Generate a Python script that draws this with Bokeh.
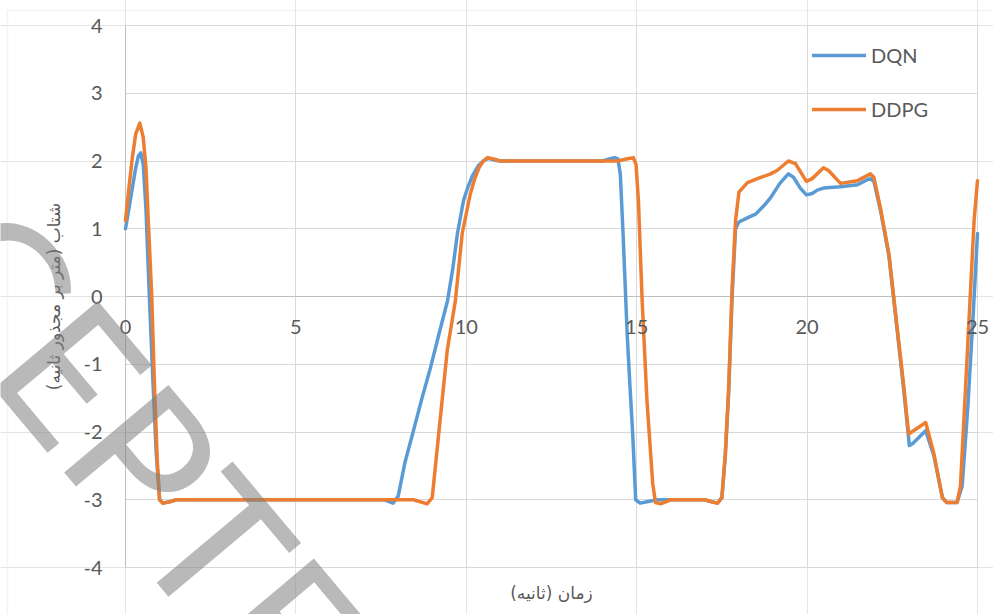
import math
from bokeh.plotting import figure
from bokeh.models import (Range1d, FixedTicker, Grid, Legend, LegendItem,
                          LabelSet, ColumnDataSource, Label, BoxAnnotation)
from bokeh.embed import file_html
from bokeh.resources import INLINE
from bokeh.core.properties import value

# ---- data ----
t_dqn = [0, 0.1, 0.2, 0.3, 0.38, 0.45, 0.52, 0.6, 0.7, 0.8, 0.9, 1.0, 1.1, 1.3, 1.5,
         7.6, 7.85, 8.0, 8.2, 8.45, 8.7, 8.95, 9.2, 9.45, 9.6, 9.74, 9.92, 10.05, 10.18, 10.35,
         10.5, 10.65, 10.85, 11.0, 14.0, 14.2, 14.35, 14.45, 14.52, 14.6, 14.72, 14.8,
         14.88, 14.97, 15.1, 15.3, 15.6, 17.0, 17.2, 17.37, 17.5, 17.6, 17.7, 17.8, 17.9,
         18.0, 18.2, 18.5, 18.75, 18.93, 19.2, 19.45, 19.6, 19.8, 19.98, 20.15, 20.3,
         20.48, 20.98, 21.48, 21.75, 21.86, 21.96, 22.15, 22.4, 22.64, 22.84, 23.0, 23.1,
         23.48, 23.72, 23.97, 24.1, 24.4, 24.55, 24.72, 24.88, 25.0]
a_dqn = [1.0, 1.3, 1.6, 1.9, 2.08, 2.12, 1.95, 1.3, 0.0, -1.2, -2.3, -3.0, -3.05, -3.03, -3.0,
         -3.0, -3.05, -2.95, -2.45, -1.98, -1.5, -1.05, -0.55, -0.06, 0.4, 0.93, 1.42, 1.62, 1.78, 1.93,
         2.0, 2.04, 2.01, 2.0, 2.0, 2.03, 2.05, 2.03, 1.8, 0.93, -0.55, -1.3,
         -2.0, -3.0, -3.05, -3.03, -3.0, -3.0, -3.03, -3.05, -2.97, -2.35, -1.4, 0.0, 1.0,
         1.1, 1.15, 1.22, 1.35, 1.46, 1.67, 1.81, 1.76, 1.6, 1.5, 1.52, 1.57,
         1.6, 1.62, 1.65, 1.72, 1.74, 1.7, 1.28, 0.6, -0.48, -1.4, -2.2, -2.17,
         -1.98, -2.35, -2.97, -3.04, -3.04, -2.8, -1.6, -0.2, 0.93]

t_ddpg = [0, 0.1, 0.2, 0.3, 0.42, 0.52, 0.6, 0.68, 0.77, 0.85, 0.93, 1.0, 1.1, 1.3, 1.5,
          8.45, 8.85, 9.0, 9.19, 9.44, 9.68, 9.88, 10.12, 10.25, 10.37, 10.5, 10.62, 10.8, 11.0,
          14.43, 14.7, 14.9, 14.98, 15.05, 15.16, 15.3, 15.47, 15.55, 15.7, 16.0,
          17.0, 17.2, 17.37, 17.5, 17.6, 17.7, 17.8, 17.9, 18.0, 18.25, 18.6, 18.93, 19.12,
          19.45, 19.66, 19.98, 20.15, 20.48, 20.63, 20.98, 21.48, 21.86, 21.96, 22.15, 22.4,
          22.64, 22.84, 22.98, 23.48, 23.72, 23.97, 24.1, 24.4, 24.5, 24.65, 24.8, 24.9, 25.0]
a_ddpg = [1.12, 1.6, 2.05, 2.4, 2.56, 2.35, 1.9, 1.0, 0.0, -1.3, -2.4, -3.0, -3.05, -3.03, -3.0,
          -3.0, -3.06, -2.97, -2.03, -0.8, -0.06, 0.93, 1.52, 1.74, 1.9, 2.0, 2.05, 2.03, 2.0,
          2.0, 2.03, 2.05, 1.95, 1.42, -0.06, -1.53, -2.76, -3.04, -3.06, -3.0,
          -3.0, -3.03, -3.05, -2.97, -2.32, -1.34, 0.13, 1.12, 1.54, 1.68, 1.75, 1.81, 1.86,
          2.0, 1.96, 1.7, 1.74, 1.9, 1.86, 1.67, 1.71, 1.81, 1.76, 1.31, 0.63,
          -0.45, -1.34, -2.03, -1.86, -2.32, -2.97, -3.04, -3.04, -2.8, -1.34, 0.13, 1.12, 1.71]

x_ticks = [0, 5, 10, 15, 20, 25]
y_ticks = [-4, -3, -2, -1, 0, 1, 2, 3, 4]
x_min, x_max = 0, 25
y_min, y_max = -4, 4
x_title = "زمان (ثانیه)"
y_title = "شتاب (متر بر مجذور ثانیه)"
series_names = ["DQN", "DDPG"]
series_colors = ["#5B9BD5", "#ED7D31"]
watermark = ("ACC", "EPTED")

TICK_FONT = "Lato"
AR_FONT = "DejaVu Sans"
TXT = "#595959"
GRID = "#d9d9d9"
AXIS = "#bfbfbf"

# layout: plot area spans x 0..25 over pixels 125..977, y 4..-4 over pixels 25..567
W, H = 993, 614
PX_X = (977 - 125) / 25.0
PX_Y = (567 - 25) / 8.0
xr = Range1d(-125 / PX_X, 25 + (W - 977) / PX_X)
yr = Range1d(-4 - (H - 567) / PX_Y, 4 + 25 / PX_Y)

p = figure(width=W, height=H, output_backend="svg", toolbar_location=None,
           x_range=xr, y_range=yr, x_axis_location=None, y_axis_location=None,
           min_border_left=0, min_border_right=0, min_border_top=0, min_border_bottom=0)
p.outline_line_color = None
p.background_fill_color = "white"
p.border_fill_color = "white"

# chart-area border (extends past the right/bottom edge of the picture)
p.add_layout(BoxAnnotation(left=-118 / PX_X, top=4 + 15 / PX_Y,
                           right=xr.end + 1, bottom=yr.start - 1,
                           fill_alpha=0, line_color=GRID, line_width=1.5, level="underlay"))

# grids restricted to the plotting rectangle
p.add_layout(Grid(dimension=1, ticker=FixedTicker(ticks=y_ticks), grid_line_color=GRID,
                  cross_bounds=(x_min, x_max)))
p.add_layout(Grid(dimension=0, ticker=FixedTicker(ticks=x_ticks), grid_line_color=GRID,
                  cross_bounds=(y_min, y_max)))
# axis lines: horizontal at y = 0, vertical at x = 0
p.add_layout(Grid(dimension=1, ticker=FixedTicker(ticks=[0]), grid_line_color=AXIS,
                  cross_bounds=(x_min, x_max)))
p.add_layout(Grid(dimension=0, ticker=FixedTicker(ticks=[0]), grid_line_color=AXIS,
                  cross_bounds=(y_min, y_max)))

# y tick labels left of x = 0
src_y = ColumnDataSource(dict(x=[x_min] * len(y_ticks), y=y_ticks, text=[str(v) for v in y_ticks]))
p.add_layout(LabelSet(x="x", y="y", text="text", source=src_y, x_offset=-23,
                      text_align="right", text_baseline="middle",
                      text_font=value(TICK_FONT), text_font_size="20px", text_color=TXT))

# x tick labels under the y = 0 line
src_x = ColumnDataSource(dict(x=x_ticks, y=[0] * len(x_ticks), text=[str(v) for v in x_ticks]))
p.add_layout(LabelSet(x="x", y="y", text="text", source=src_x, y_offset=-30,
                      text_align="center", text_baseline="middle",
                      text_font=value(TICK_FONT), text_font_size="20px", text_color=TXT))

# axis titles
p.add_layout(Label(x=(x_min + x_max) / 2, y=y_min, y_offset=-25, text=x_title,
                   text_align="center", text_baseline="middle", text_font=AR_FONT,
                   text_font_size="17px", text_color=TXT))
p.add_layout(Label(x=x_min, y=(y_min + y_max) / 2, x_offset=-72, text=y_title,
                   angle=math.pi / 2, text_align="center", text_baseline="middle",
                   text_font=AR_FONT, text_font_size="17px", text_color=TXT))

# series
r1 = p.line(t_dqn, a_dqn, line_color=series_colors[0], line_width=3.5, line_join="round", line_cap="round")
r2 = p.line(t_ddpg, a_ddpg, line_color=series_colors[1], line_width=3.5, line_join="round", line_cap="round")

legend = Legend(items=[LegendItem(label=series_names[0], renderers=[r1]),
                       LegendItem(label=series_names[1], renderers=[r2])],
                location=(812, 493), orientation="vertical",
                glyph_width=54, glyph_height=24, label_height=24, label_standoff=5,
                spacing=30, padding=0, margin=0,
                background_fill_alpha=0, border_line_color=None,
                label_text_font=TICK_FONT, label_text_font_size="20px", label_text_color=TXT)
p.add_layout(legend)

# watermark stamp
wm_angle = -0.8727
wm_x, wm_y = -2.53, -0.46
p.add_layout(Label(x=wm_x, y=wm_y, text=watermark[1], angle=wm_angle, text_align="left",
                   text_baseline="alphabetic", text_font="Lato", text_font_size="190px",
                   text_color="#7f7f7f", text_alpha=0.55))
p.add_layout(Label(x=wm_x, y=wm_y, text=watermark[0], angle=wm_angle, text_align="right",
                   text_baseline="alphabetic", text_font="Lato", text_font_size="190px",
                   text_color="#7f7f7f", text_alpha=0.55))

open("out.html", "w").write(file_html(p, INLINE))
